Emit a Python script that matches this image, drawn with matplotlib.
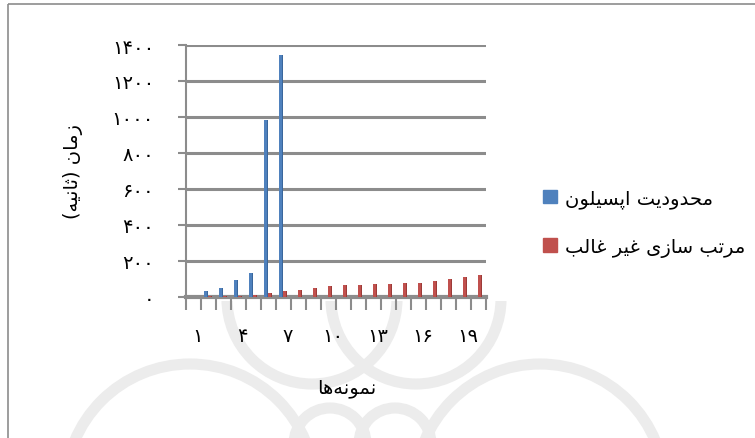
import matplotlib
matplotlib.use("Agg")
import matplotlib.pyplot as plt
from matplotlib.patches import Rectangle, Patch, Circle
from matplotlib.transforms import ScaledTranslation

# Persian letter forms: (isolated, final, initial, medial); letters without
# initial/medial forms only join to the letter before them
FORMS = {
    'ا': ('\uFE8D', '\uFE8E', None, None),
    'ب': ('\uFE8F', '\uFE90', '\uFE91', '\uFE92'),
    'پ': ('\uFB56', '\uFB57', '\uFB58', '\uFB59'),
    'ت': ('\uFE95', '\uFE96', '\uFE97', '\uFE98'),
    'ث': ('\uFE99', '\uFE9A', '\uFE9B', '\uFE9C'),
    'ح': ('\uFEA1', '\uFEA2', '\uFEA3', '\uFEA4'),
    'د': ('\uFEA9', '\uFEAA', None, None),
    'ر': ('\uFEAD', '\uFEAE', None, None),
    'ز': ('\uFEAF', '\uFEB0', None, None),
    'س': ('\uFEB1', '\uFEB2', '\uFEB3', '\uFEB4'),
    'غ': ('\uFECD', '\uFECE', '\uFECF', '\uFED0'),
    'ل': ('\uFEDD', '\uFEDE', '\uFEDF', '\uFEE0'),
    'م': ('\uFEE1', '\uFEE2', '\uFEE3', '\uFEE4'),
    'ن': ('\uFEE5', '\uFEE6', '\uFEE7', '\uFEE8'),
    'ه': ('\uFEE9', '\uFEEA', '\uFEEB', '\uFEEC'),
    'و': ('\uFEED', '\uFEEE', None, None),
    'ی': ('\uFBFC', '\uFBFD', '\uFBFE', '\uFBFF'),
}


def shape(text):
    '''Join Persian letters and lay them out right to left'''
    out = []
    for i, ch in enumerate(text):
        if ch not in FORMS:
            if ch != '\u200c':
                out.append(ch)
            continue
        prev = text[i - 1] if i > 0 else None
        nxt = text[i + 1] if i + 1 < len(text) else None
        join_prev = prev in FORMS and FORMS[prev][2] is not None
        join_next = FORMS[ch][2] is not None and nxt in FORMS
        iso, fin, ini, med = FORMS[ch]
        if join_prev and join_next:
            out.append(med)
        elif join_prev:
            out.append(fin)
        elif join_next:
            out.append(ini)
        else:
            out.append(iso)
    return ''.join(reversed(out)).translate(str.maketrans('()', ')('))


# run times in seconds for each test sample
samples = list(range(1, 21))
epsilon_time = [2, 32, 48, 94, 133, 985, 1345]
nsga_time = [2, 4, 4, 7, 10, 25, 32, 37, 48, 63, 65, 68, 70, 74, 80, 80, 87, 100, 109, 122]

epsilon_name = 'محدودیت اپسیلون'
nsga_name = 'مرتب سازی غیر غالب'
y_title = 'زمان (ثانیه)'
x_title = 'نمونه‌ها'

y_ticks = [0, 200, 400, 600, 800, 1000, 1200, 1400]
y_ticklabels = ['۰', '۲۰۰', '۴۰۰', '۶۰۰', '۸۰۰', '۱۰۰۰', '۱۲۰۰', '۱۴۰۰']
x_ticks = [1, 4, 7, 10, 13, 16, 19]
x_ticklabels = ['۱', '۴', '۷', '۱۰', '۱۳', '۱۶', '۱۹']

plt.rcParams['font.family'] = ['DejaVu Sans']
grey = '#8c8c8c'
blue, blue_side = '#4f81bd', '#3a679c'
red, red_side = '#c0504d', '#9c3b38'

fig = plt.figure(figsize=(7.55, 4.39), dpi=100)

# faint page watermark below the chart, in pixel units
bg = fig.add_axes([0, 0, 1, 1], zorder=-1)
bg.set_xlim(0, 755)
bg.set_ylim(439, 0)
bg.axis('off')
clip = Rectangle((8, 302), 800, 200, transform=bg.transData)
for cx, cy, r in [(312, 300, 85), (416, 300, 85), (330, 445, 36), (395, 445, 36),
                  (190, 490, 125), (540, 490, 125)]:
    ring = Circle((cx, cy), r, fill=False, edgecolor='#ececec', lw=8)
    bg.add_patch(ring)
    ring.set_clip_path(clip)
bg.add_patch(Rectangle((8, 5), 800, 500, fill=False, edgecolor=grey, lw=1.2))

ax = fig.add_axes([186 / 755, 1 - 298 / 439, 300 / 755, 252 / 439])

# bars drawn as a front face plus a darker side face for a column look
front_w, side_w = 0.2, 0.07


def draw_bars(xs, vals, shift, face, side):
    xf = [x + shift for x in xs]
    ax.bar(xf, vals, width=front_w, color=face, align='edge', zorder=3)
    ax.bar([x + front_w for x in xf], vals, width=side_w, color=side, align='edge', zorder=3)


draw_bars(samples[:len(epsilon_time)], epsilon_time, -0.29, blue, blue_side)
draw_bars(samples, nsga_time, -0.02, red, red_side)

ax.set_xlim(0.5, 20.5)
ax.set_ylim(0, 1400)
ax.set_yticks(y_ticks)
ax.set_yticklabels(y_ticklabels, fontsize=14)
ax.set_xticks(x_ticks)
ax.set_xticklabels(x_ticklabels, fontsize=14)
ax.set_xticks([s - 0.5 for s in samples] + [20.5], minor=True)
ax.tick_params(axis='y', length=6, width=1.5, color=grey, pad=17)
ax.tick_params(axis='x', which='major', length=0, pad=21)
ax.tick_params(axis='x', which='minor', length=9, width=1.5, color=grey)
shift = ScaledTranslation(4 / 100, 0, fig.dpi_scale_trans)
for lab in ax.get_xticklabels():
    lab.set_transform(lab.get_transform() + shift)

ax.yaxis.grid(True, color=grey, lw=2.2)
ax.set_axisbelow(True)
for s in ['top', 'right']:
    ax.spines[s].set_visible(False)
ax.spines['left'].set_color(grey)
ax.spines['left'].set_linewidth(1.5)
ax.spines['bottom'].set_color(grey)
ax.spines['bottom'].set_linewidth(3)

ax.set_ylabel(shape(y_title), fontsize=14)
ax.yaxis.set_label_coords(-0.345, 0.5)
ax.set_xlabel(shape(x_title), fontsize=14)
ax.xaxis.set_label_coords(0.535, -0.32)

handles = [Patch(color=blue), Patch(color=red)]
ax.legend(handles, [shape(epsilon_name), shape(nsga_name)], fontsize=14,
          frameon=False, loc='center left', bbox_to_anchor=(1.19, 0.295),
          handlelength=0.72, handleheight=0.72, handletextpad=0.4,
          labelspacing=1.5, borderaxespad=0, borderpad=0)

fig.savefig('out.png', dpi=100)
